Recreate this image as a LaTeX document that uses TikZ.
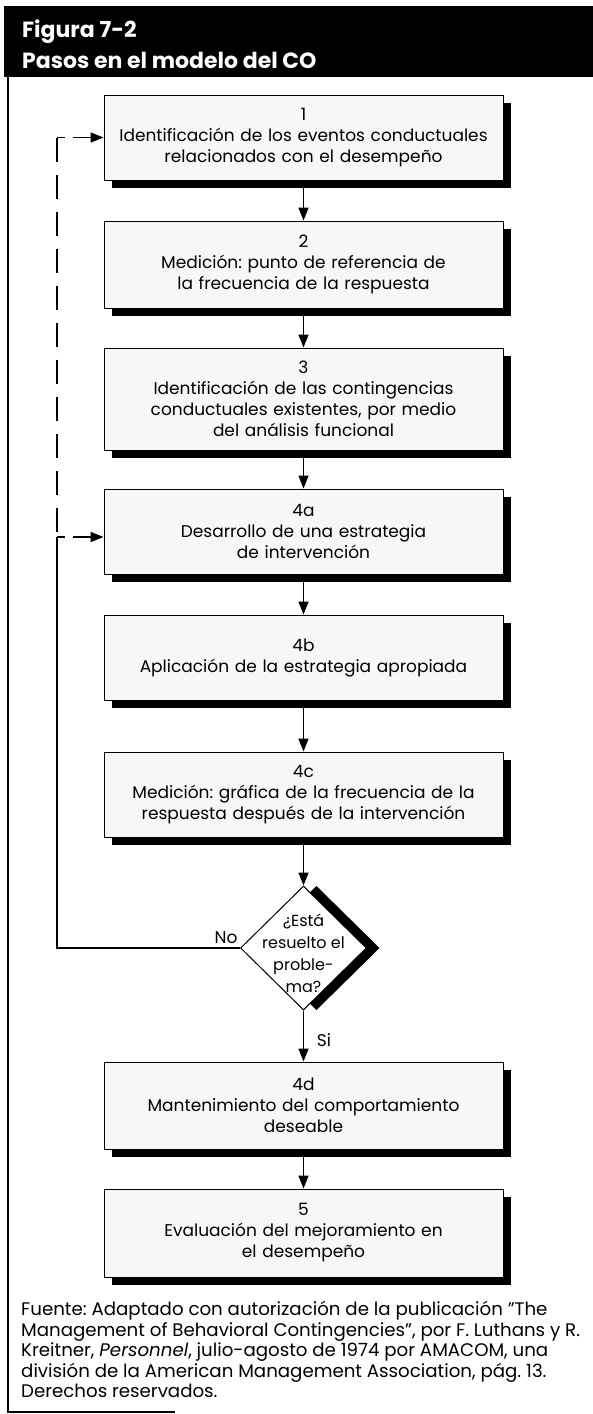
\documentclass[tikz,border=0pt]{standalone}
\usepackage{fontspec}
\setmainfont{Poppins}
\usetikzlibrary{arrows.meta,shapes.geometric,shadows}
\frenchspacing
\begin{document}
\begin{tikzpicture}[x=1pt,y=-1pt,
  every node/.style={font=\fontsize{17}{21}\selectfont},
  stepbox/.style={draw=black, line width=1pt, fill=black!3, minimum width=399pt,
    text width=394pt, align=center, inner sep=0pt,
    drop shadow={shadow xshift=8pt, shadow yshift=-8pt, fill=black, opacity=1}},
  arr/.style={line width=1.6pt, -{Triangle[length=13pt,width=10pt]}},
  fb/.style={line width=1.6pt},
  lbl/.style={inner sep=0pt},
  hdr/.style={anchor=base west, text=white, inner sep=0pt, font=\bfseries\fontsize{22}{22}\selectfont}
]
\useasboundingbox (0,0) rectangle (593,1414);
\fill[white] (0,0) rectangle (593,1414);
% header
\fill[black] (4,6) rectangle (593,77);
\node[hdr] (t1) at (22,37) {Figura 7-2};
\node[hdr] (t2) at (22,68) {Pasos en el modelo del CO};
% frame
\draw[line width=1.6pt] (8,77) -- (8,1412) -- (175,1412);
% boxes
\node[stepbox, minimum height=85pt] (b1) at (303.5,137.5) {1\\Identificación de los eventos conductuales\\relacionados con el desempeño};
\node[stepbox, minimum height=87pt] (b2) at (303.5,264.5) {2\\Medición: punto de referencia de\\la frecuencia de la respuesta};
\node[stepbox, minimum height=102pt] (b3) at (303.5,399) {3\\Identificación de las contingencias\\conductuales existentes, por medio\\del análisis funcional};
\node[stepbox, minimum height=85pt] (b4a) at (303.5,531.5) {4a\\Desarrollo de una estrategia\\de intervención};
\node[stepbox, minimum height=85pt] (b4b) at (303.5,657.5) {4b\\Aplicación de la estrategia apropiada};
\node[stepbox, minimum height=85pt] (b4c) at (303.5,794.5) {4c\\Medición: gráfica de la frecuencia de la\\respuesta después de la intervención};
\node[stepbox, minimum height=87pt] (b4d) at (303.5,1105.5) {4d\\Mantenimiento del comportamiento\\deseable};
\node[stepbox, minimum height=88pt] (b5) at (303.5,1233) {5\\Evaluación del mejoramiento en\\el desempeño};
% decision
\fill[black] (316.5,886) -- (379.5,948) -- (316.5,1010) -- (253.5,948) -- cycle;
\node[diamond, draw, line width=1pt, fill=white, minimum width=126pt, minimum height=124pt, inner sep=0pt] (dec) at (303.5,948) {};
\node[align=center, inner sep=0pt, font=\fontsize{16}{22}\selectfont] (dect) at (303.5,953) {¿Está\\resuelto el\\proble-\\ma?};
\node[lbl] (no) at (226,938) {No};
\node[lbl] (si) at (324,1040) {Si};
% arrows
\draw[arr] (b1.south) -- (b2.north);
\draw[arr] (b2.south) -- (b3.north);
\draw[arr] (b3.south) -- (b4a.north);
\draw[arr] (b4a.south) -- (b4b.north);
\draw[arr] (b4b.south) -- (b4c.north);
\draw[arr] (b4c.south) -- (dec.north);
\draw[arr] (dec.south) -- (b4d.north);
\draw[arr] (b4d.south) -- (b5.north);
% feedback
\coordinate (fbc) at (57,948);
\coordinate (fb2) at (57,537);
\coordinate (fb1) at (57,137.5);
\draw[fb] (dec.west) -- (fbc) -- (fb2);
\draw[fb, dash pattern=on 24pt off 13pt] (fb1) -- (fb2);
\draw[fb, dash pattern=on 8pt off 8pt on 40pt off 1pt, -{Triangle[length=13pt,width=10pt]}] (fb1) -- (fb1 -| b1.west);
\draw[fb, dash pattern=on 8pt off 8pt on 40pt off 1pt, -{Triangle[length=13pt,width=10pt]}] (fb2) -- (fb2 -| b4a.west);
% source
\node[anchor=north west, align=left, inner sep=0pt, font=\fontsize{18.2}{20.5}\selectfont] (src) at (21,1301) {Fuente: Adaptado con autorización de la publicación "The\\Management of Behavioral Contingencies", por F. Luthans y R.\\Kreitner, \textit{Personnel}, julio-agosto de 1974 por AMACOM, una\\división de la American Management Association, pág. 13.\\Derechos reservados.};
\end{tikzpicture}
\end{document}
